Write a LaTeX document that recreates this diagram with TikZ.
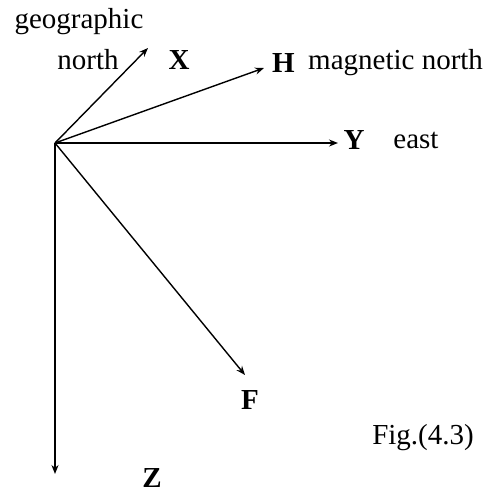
\documentclass[tikz,border=0pt]{standalone}
\usepackage{fontspec}
\setmainfont{Liberation Serif}
\usetikzlibrary{arrows.meta}
\tikzset{
  vec/.style={line width=1.4pt,-{Stealth[length=9pt,width=7pt,open]}},
  lbl/.style={font=\fontsize{29}{32}\selectfont,inner sep=0pt},
  comp/.style={lbl,font=\fontsize{29}{32}\selectfont\bfseries}
}
\begin{document}
\begin{tikzpicture}[x=1pt,y=-1pt]
\useasboundingbox (0,0) rectangle (490,493);

\coordinate (O) at (55,143);
\coordinate (xtip) at (148,48);
\coordinate (htip) at (264,68);
\coordinate (ytip) at (338,143);
\coordinate (ftip) at (245,375);
\coordinate (ztip) at (55,474);

\draw[vec] (O) -- (xtip);
\draw[vec] (O) -- (htip);
\draw[vec] (O) -- (ytip);
\draw[vec] (O) -- (ftip);
\draw[vec] (O) -- (ztip);

\node[lbl] (geo) at (79,22) {geographic};
\node[lbl] (gnorth) at (88,60) {north};
\node[comp] (X) at (179,60) {X};
\node[comp,anchor=west] (H) at (272,63) {H};
\node[lbl,anchor=west] (mnorth) at (308,63) {magnetic north};
\node[comp] (Y) at (354,140) {Y};
\node[lbl] (east) at (416,140) {east};
\node[comp] (F) at (250,400) {F};
\node[comp] (Z) at (152,478) {Z};
\node[lbl] (fig) at (423,438) {Fig.(4.3)};
\end{tikzpicture}
\end{document}
